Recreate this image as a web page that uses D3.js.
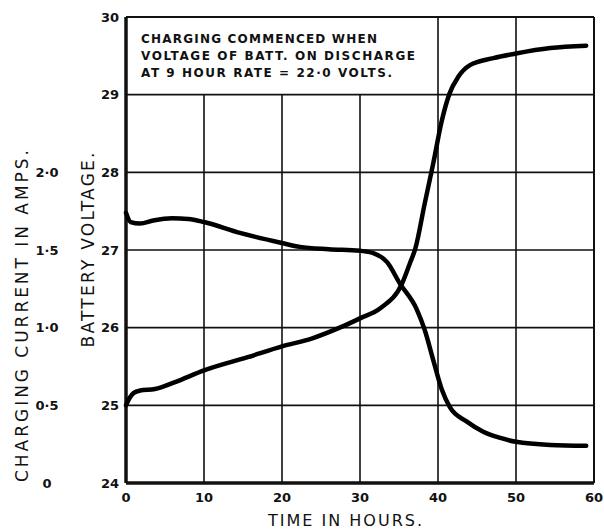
<!DOCTYPE html>
<html>
<head>
<meta charset="utf-8">
<script src="https://cdn.jsdelivr.net/npm/d3@7"></script>
<style>
  body { margin: 0; background: #fff; }
  text { font-family: "DejaVu Sans", sans-serif; font-weight: bold; fill: #111; }
</style>
</head>
<body>
<div id="chart"></div>
<script>
// hours vs battery voltage (rising curve)
var voltHours = [0, 0.5, 1, 1.8, 3.7, 6.3, 10, 15.6, 20, 23.8, 27.4, 30, 32.6, 35.4, 36.4, 37.1, 38.3, 39.4, 40.5, 41.5, 42.6, 44.1, 47.1, 50, 54.4, 59];
var voltValues = [25.0, 25.1, 25.16, 25.19, 25.21, 25.3, 25.45, 25.62, 25.76, 25.86, 26.0, 26.12, 26.25, 26.57, 26.83, 27.02, 27.6, 28.12, 28.67, 29.02, 29.23, 29.38, 29.47, 29.53, 29.6, 29.63];

// hours vs charging current (amps), drawn against the voltage grid
var ampHours = [0, 0.6, 1.8, 3.5, 5.9, 8, 10, 14.6, 20, 22.3, 26, 30, 31.7, 33.5, 35.1, 37.3, 38.3, 39.4, 40.5, 41.5, 43.7, 45.8, 48, 50, 54.4, 59];
var ampValues = [1.74, 1.68, 1.67, 1.69, 1.705, 1.7, 1.68, 1.61, 1.545, 1.52, 1.505, 1.495, 1.48, 1.42, 1.285, 1.115, 0.985, 0.79, 0.6, 0.49, 0.395, 0.33, 0.29, 0.265, 0.245, 0.24];

var xTicks = [0, 10, 20, 30, 40, 50, 60];
var voltTicks = [24, 25, 26, 27, 28, 29, 30];
var ampTicks = [0, 0.5, 1.0, 1.5, 2.0];
var ampTickLabels = ["0", "0·5", "1·0", "1·5", "2·0"];
var note = ["CHARGING COMMENCED WHEN", "VOLTAGE OF BATT. ON DISCHARGE", "AT 9 HOUR RATE = 22·0 VOLTS."];

var W = 604, H = 529;
var margin = {top: 17, right: 10, bottom: 46, left: 126};
var width = W - margin.left - margin.right,
    height = H - margin.top - margin.bottom;

var svg = d3.select("#chart").append("svg")
    .attr("width", W)
    .attr("height", H);
var g = svg.append("g")
    .attr("transform", "translate(" + margin.left + "," + margin.top + ")");

var x = d3.scaleLinear().domain([0, 60]).range([0, width]);
var y = d3.scaleLinear().domain([24, 30]).range([height, 0]);
var yAmp = d3.scaleLinear().domain([0, 3]).range([height, 0]);

// grid - horizontal
g.selectAll(".hgrid")
  .data(voltTicks.slice(1, -1))
  .enter().append("line")
    .attr("x1", 0).attr("x2", width)
    .attr("y1", function(d) { return y(d); })
    .attr("y2", function(d) { return y(d); })
    .attr("stroke", "#111").attr("stroke-width", 1.6);

// grid - vertical (10..30 stop under the note box)
g.selectAll(".vgrid")
  .data(xTicks.slice(1, -1))
  .enter().append("line")
    .attr("x1", function(d) { return x(d); })
    .attr("x2", function(d) { return x(d); })
    .attr("y1", height)
    .attr("y2", function(d) { return d < 40 ? y(29) : 0; })
    .attr("stroke", "#111").attr("stroke-width", 1.6);

// frame: thin top and right, heavy left and bottom
g.append("line").attr("x1", 0).attr("x2", width).attr("y1", 0).attr("y2", 0)
  .attr("stroke", "#111").attr("stroke-width", 2);
g.append("line").attr("x1", width).attr("x2", width).attr("y1", 0).attr("y2", height)
  .attr("stroke", "#111").attr("stroke-width", 2);
g.append("line").attr("x1", 0).attr("x2", 0).attr("y1", 0).attr("y2", height)
  .attr("stroke", "#111").attr("stroke-width", 3.5);
g.append("line").attr("x1", 0).attr("x2", width).attr("y1", height).attr("y2", height)
  .attr("stroke", "#111").attr("stroke-width", 3.5);

// curves
var voltLine = d3.line()
    .x(function(d, i) { return x(voltHours[i]); })
    .y(function(d) { return y(d); })
    .curve(d3.curveMonotoneX);
var ampLine = d3.line()
    .x(function(d, i) { return x(ampHours[i]); })
    .y(function(d) { return yAmp(d); })
    .curve(d3.curveMonotoneX);

g.append("path").datum(voltValues)
  .attr("d", voltLine)
  .attr("fill", "none").attr("stroke", "#000")
  .attr("stroke-width", 4.5).attr("stroke-linecap", "round").attr("stroke-linejoin", "round");
g.append("path").datum(ampValues)
  .attr("d", ampLine)
  .attr("fill", "none").attr("stroke", "#000")
  .attr("stroke-width", 4.5).attr("stroke-linecap", "round").attr("stroke-linejoin", "round");

// x tick labels
g.selectAll(".xt")
  .data(xTicks)
  .enter().append("text")
    .attr("x", function(d) { return x(d); })
    .attr("y", height + 19)
    .attr("text-anchor", "middle")
    .style("font-size", "13px")
    .text(function(d) { return d; });

// voltage tick labels
g.selectAll(".yt")
  .data(voltTicks)
  .enter().append("text")
    .attr("x", -7)
    .attr("y", function(d) { return y(d); })
    .attr("dy", "0.35em")
    .attr("text-anchor", "end")
    .style("font-size", "13px")
    .text(function(d) { return d; });

// current tick labels
g.selectAll(".at")
  .data(ampTicks)
  .enter().append("text")
    .attr("x", 47 - margin.left)
    .attr("y", function(d) { return yAmp(d); })
    .attr("dy", "0.35em")
    .attr("text-anchor", "middle")
    .style("font-size", "13px")
    .text(function(d, i) { return ampTickLabels[i]; });

// axis titles
svg.append("text")
  .attr("x", 345).attr("y", 526)
  .attr("text-anchor", "middle")
  .style("font-size", "16px").style("font-weight", "normal")
  .attr("textLength", 154)
  .text("TIME IN HOURS.");

svg.append("text")
  .attr("transform", "translate(94,250) rotate(-90)")
  .attr("text-anchor", "middle")
  .style("font-size", "17px").style("font-weight", "normal")
  .attr("textLength", 195)
  .text("BATTERY VOLTAGE.");

svg.append("text")
  .attr("transform", "translate(28,316) rotate(-90)")
  .attr("text-anchor", "middle")
  .style("font-size", "17px").style("font-weight", "normal")
  .attr("textLength", 332)
  .text("CHARGING CURRENT IN AMPS.");

// note in the top-left box
var noteLen = [236, 274, 251];
g.selectAll(".note")
  .data(note)
  .enter().append("text")
    .attr("x", 15)
    .attr("y", function(d, i) { return 26 + i * 17; })
    .attr("textLength", function(d, i) { return noteLen[i]; })
    .style("font-size", "12px")
    .text(function(d) { return d; });
</script>
</body>
</html>
